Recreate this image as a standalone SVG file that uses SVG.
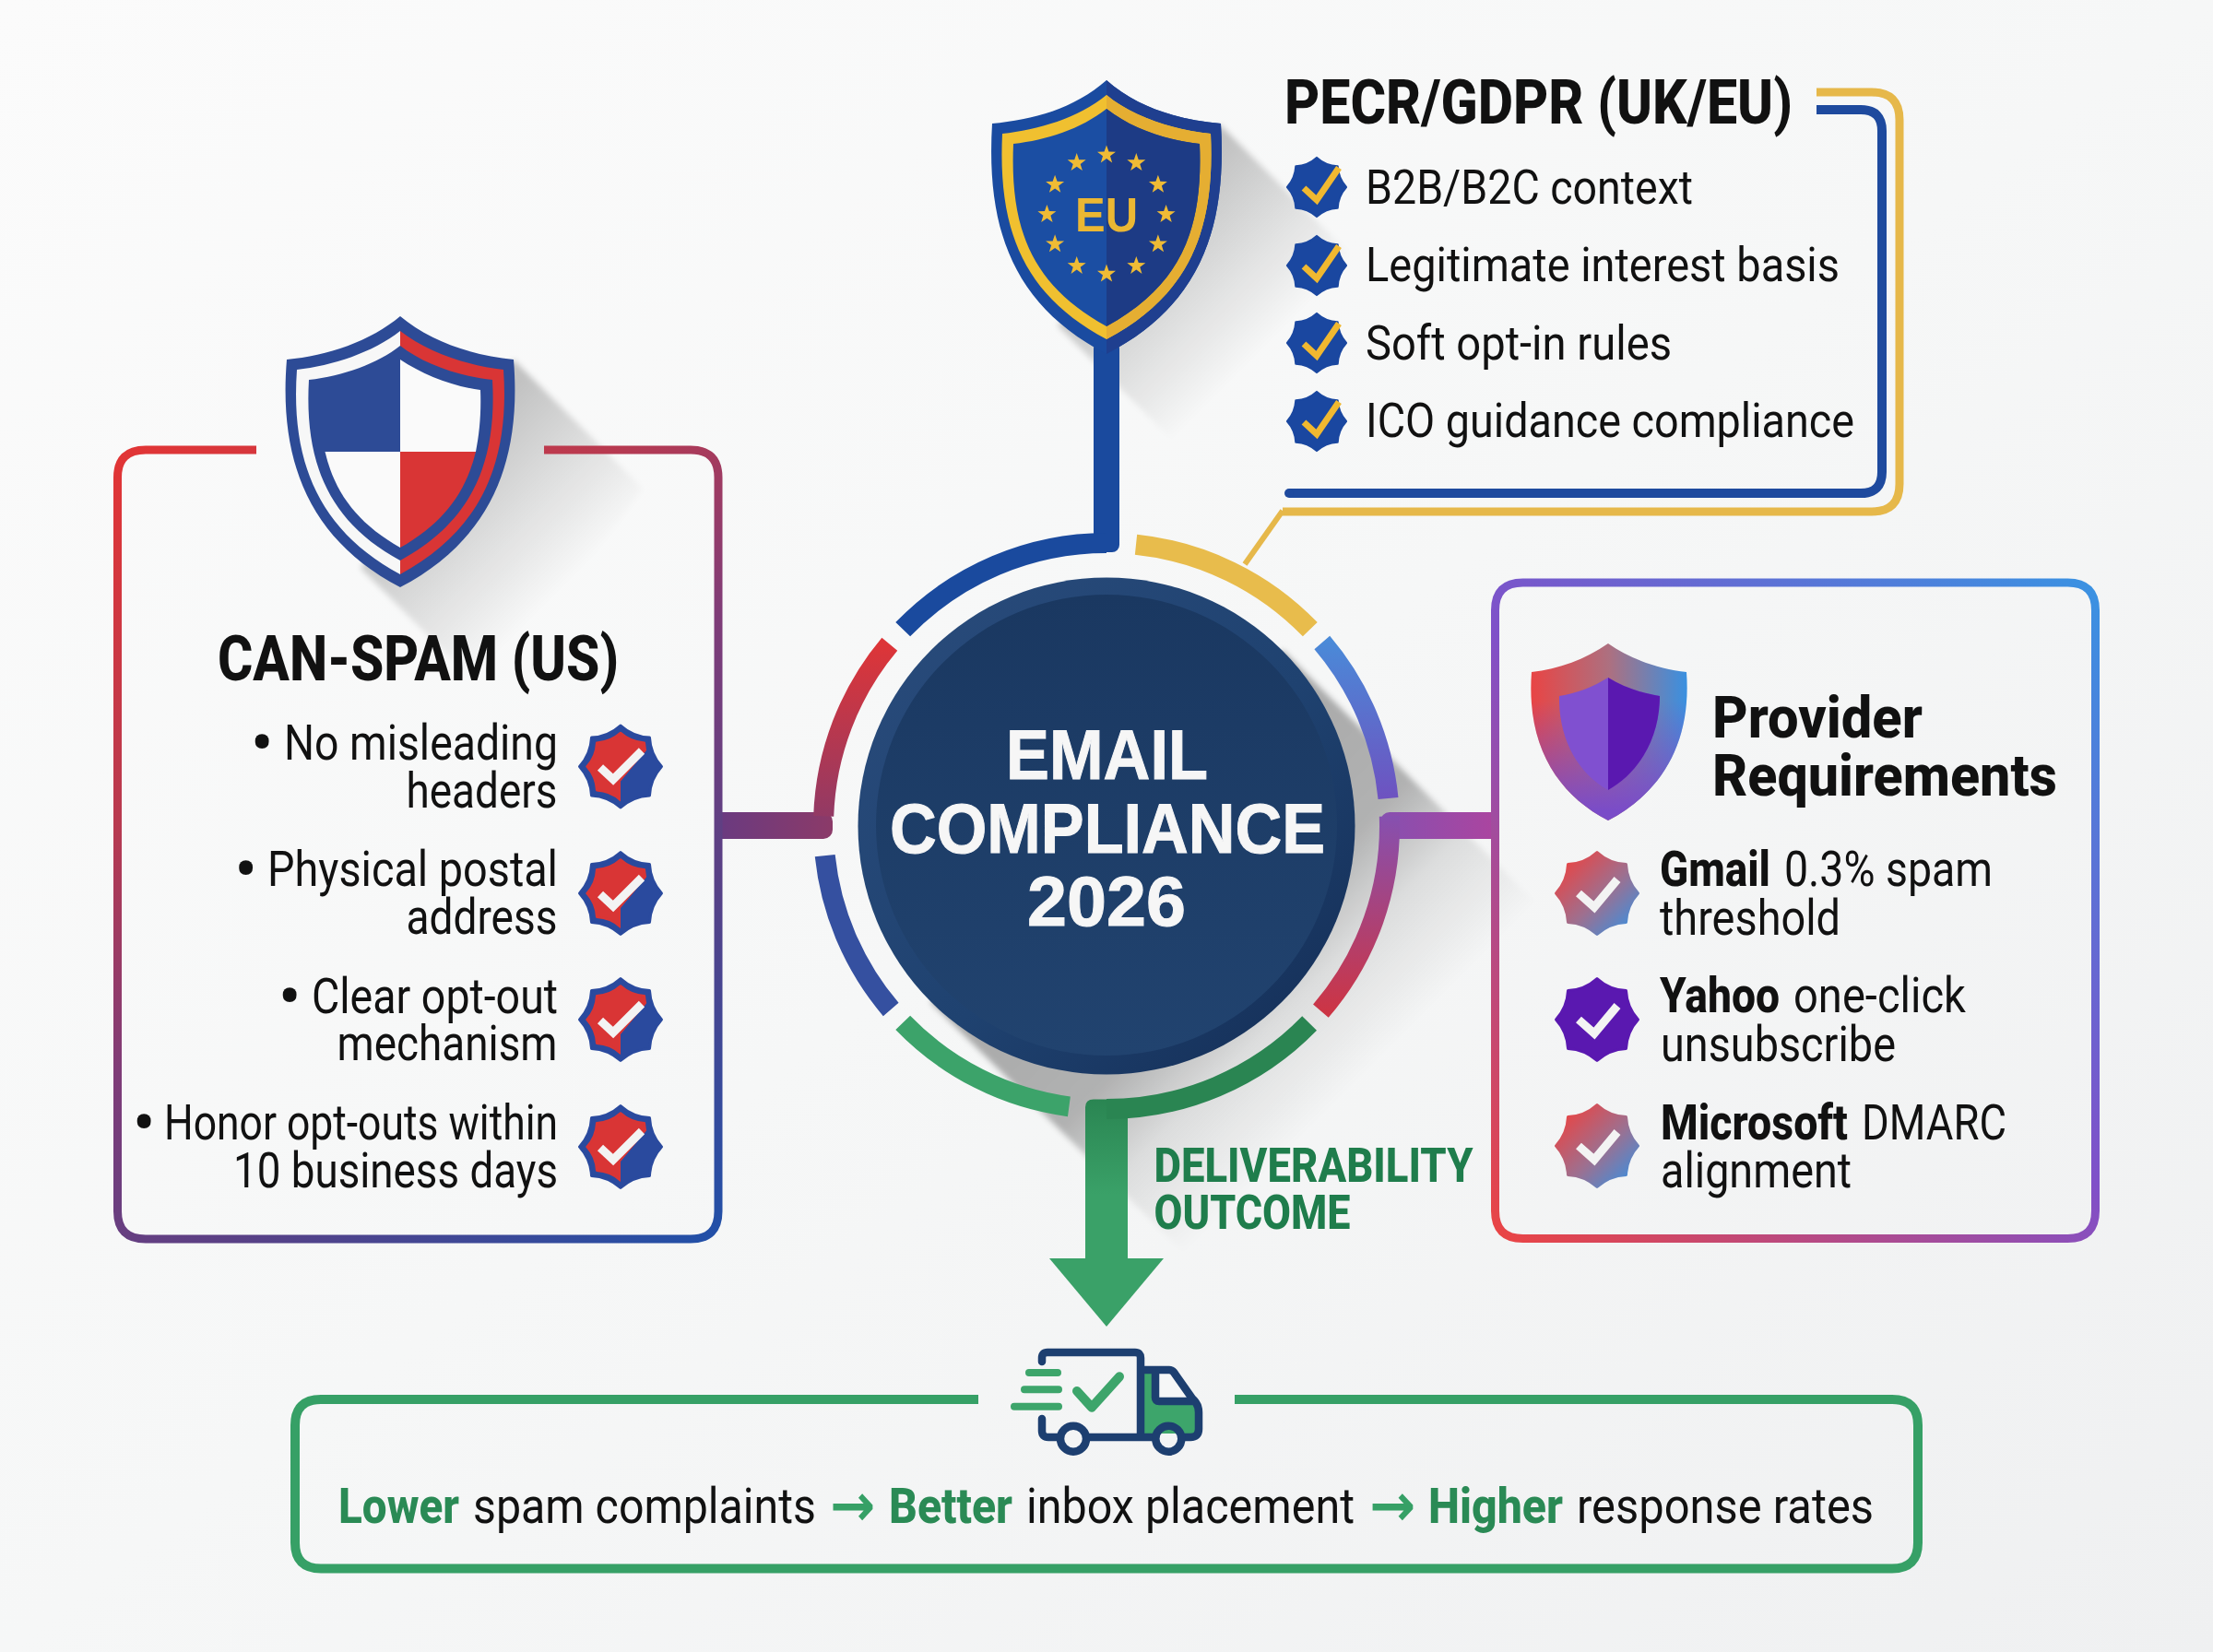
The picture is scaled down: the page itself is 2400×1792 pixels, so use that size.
<svg xmlns="http://www.w3.org/2000/svg" width="2400" height="1792" viewBox="0 0 2400 1792">
<defs>
<style>
text{font-family:Roboto,"Liberation Sans",sans-serif;fill:#111}
.b{font-weight:800}
.r{font-weight:400}
.h{font-size:66px;font-weight:800}
.i{font-size:54px}
.bu{font-size:74px}
.g{fill:#2a8a55;font-weight:800}
.c{font-family:"Liberation Sans",Arial,sans-serif;font-weight:700;font-size:76px;fill:#f6f6f6;stroke:#f6f6f6;stroke-width:1}
.ln{fill:none;stroke-width:9}
.seg{fill:none;stroke-width:22}
.wk{stroke:#f3f3f3;stroke-width:9;fill:none}
.nv{fill:none;stroke:#1d3f70;stroke-width:8.5;stroke-linecap:round;stroke-linejoin:round}
.sp{fill:none;stroke:#3da56b;stroke-width:8;stroke-linecap:round}
</style>
<linearGradient id="bg" x1="0" y1="0" x2="1" y2="1"><stop offset="0" stop-color="#fbfbfb"/><stop offset=".5" stop-color="#f6f7f7"/><stop offset="1" stop-color="#eff0f1"/></linearGradient>
<linearGradient id="lp" gradientUnits="userSpaceOnUse" x1="127" y1="488" x2="779" y2="1344"><stop offset="0" stop-color="#e23535"/><stop offset=".3" stop-color="#b83a50"/><stop offset=".5" stop-color="#7f3c78"/><stop offset=".7" stop-color="#5a4085"/><stop offset="1" stop-color="#2150a8"/></linearGradient>
<linearGradient id="rp" gradientUnits="userSpaceOnUse" x1="1621" y1="1343" x2="2272" y2="632"><stop offset="0" stop-color="#ea4444"/><stop offset=".5" stop-color="#8050c8"/><stop offset="1" stop-color="#3a92e2"/></linearGradient>
<linearGradient id="slt" gradientUnits="userSpaceOnUse" x1="0" y1="700" x2="0" y2="900"><stop offset="0" stop-color="#dd3538"/><stop offset="1" stop-color="#8c3a68"/></linearGradient>
<linearGradient id="srt" gradientUnits="userSpaceOnUse" x1="0" y1="695" x2="0" y2="866"><stop offset="0" stop-color="#4a8ad8"/><stop offset="1" stop-color="#6e52c0"/></linearGradient>
<linearGradient id="srb" gradientUnits="userSpaceOnUse" x1="0" y1="885" x2="0" y2="1097"><stop offset="0" stop-color="#8650b0"/><stop offset="1" stop-color="#cc3545"/></linearGradient>
<linearGradient id="cl" gradientUnits="userSpaceOnUse" x1="780" y1="0" x2="905" y2="0"><stop offset="0" stop-color="#6a3a80"/><stop offset="1" stop-color="#8c3a68"/></linearGradient>
<linearGradient id="cr" gradientUnits="userSpaceOnUse" x1="1497" y1="0" x2="1617" y2="0"><stop offset="0" stop-color="#8650b0"/><stop offset="1" stop-color="#aa45a0"/></linearGradient>
<linearGradient id="cg" gradientUnits="userSpaceOnUse" x1="0" y1="1192" x2="0" y2="1365"><stop offset="0" stop-color="#2a8552"/><stop offset=".6" stop-color="#3aa168"/></linearGradient>
<linearGradient id="cs" gradientUnits="userSpaceOnUse" x1="1200" y1="896" x2="1475" y2="1171"><stop offset="0" stop-color="#000" stop-opacity=".32"/><stop offset=".5" stop-color="#000" stop-opacity=".28"/><stop offset=".72" stop-color="#000" stop-opacity=".1"/><stop offset="1" stop-color="#000" stop-opacity="0"/></linearGradient>
<linearGradient id="es" gradientUnits="userSpaceOnUse" x1="1240" y1="240" x2="1375" y2="375"><stop offset="0" stop-color="#000" stop-opacity=".22"/><stop offset="1" stop-color="#000" stop-opacity="0"/></linearGradient>
<linearGradient id="us" gradientUnits="userSpaceOnUse" x1="474" y1="503" x2="610" y2="639"><stop offset="0" stop-color="#000" stop-opacity=".22"/><stop offset="1" stop-color="#000" stop-opacity="0"/></linearGradient>
<linearGradient id="disc" x1="0" y1="0" x2="1" y2="1"><stop offset="0" stop-color="#2a4c7c"/><stop offset=".55" stop-color="#1f4270"/><stop offset="1" stop-color="#132c54"/></linearGradient>
<linearGradient id="disc2" x1="0" y1="0" x2="0" y2="1"><stop offset="0" stop-color="#1a3861"/><stop offset="1" stop-color="#21436f"/></linearGradient>
<linearGradient id="po" gradientUnits="userSpaceOnUse" x1="1661" y1="0" x2="1829" y2="0"><stop offset="0" stop-color="#e84545"/><stop offset=".5" stop-color="#ad7080"/><stop offset="1" stop-color="#3a90e0"/></linearGradient>
<linearGradient id="po2" gradientUnits="userSpaceOnUse" x1="0" y1="760" x2="0" y2="880"><stop offset="0" stop-color="#7a4cc8" stop-opacity="0"/><stop offset="1" stop-color="#7a4cc8"/></linearGradient>
<linearGradient id="bd" x1="0" y1="0" x2="1" y2="1"><stop offset=".1" stop-color="#e84545"/><stop offset=".55" stop-color="#9d7090"/><stop offset=".95" stop-color="#3a90e0"/></linearGradient>
<path id="badge" d="M0,-44.5Q13.39,-32.34 31.47,-31.47Q32.34,-13.39 44.5,0Q32.34,13.39 31.47,31.47Q13.39,32.34 0,44.5Q-13.39,32.34 -31.47,31.47Q-32.34,13.39 -44.5,0Q-32.34,-13.39 -31.47,-31.47Q-13.39,-32.34 0,-44.5Z" stroke-width="3" stroke-linejoin="round"/>
<clipPath id="redclip"><polygon points="-50,-50 30,-50 30,-20 0,16 0,50 -50,50"/></clipPath>
<g id="usb">
<use href="#badge" fill="#2a4a9e" stroke="#2a4a9e"/>
<g clip-path="url(#redclip)"><use href="#badge" transform="scale(.82)" fill="#d93535" stroke="#d93535"/></g>
<path class="wk" d="M-22,1L-8,14L23,-17"/>
</g>
<g id="eub">
<use href="#badge" transform="scale(.72)" fill="#1a47a0" stroke="#1a47a0"/>
<path d="M-14,1L0,14L24,-21" fill="none" stroke="#f0b830" stroke-width="7"/>
</g>
<polygon id="star" fill="#efbb35" points="0,-10.5 2.47,-3.4 9.99,-3.24 3.99,1.3 6.17,8.49 0,4.2 -6.17,8.49 -3.99,1.3 -9.99,-3.24 -2.47,-3.4"/>
<filter id="soft" x="-10%" y="-10%" width="120%" height="120%"><feGaussianBlur stdDeviation="3"/></filter>
</defs>
<rect width="2400" height="1792" fill="url(#bg)"/>

<g id="shadows">
<polygon filter="url(#soft)" fill="url(#cs)" points="1391,705 1691,1005 1311,1385 1009,1087"/>
<polygon filter="url(#soft)" fill="url(#es)" points="1323,135 1463,275 1287,493 1147,353"/>
<polygon filter="url(#soft)" fill="url(#us)" points="557,390 697,530 531,756 391,616"/>
</g>

<g id="connectors">
<rect x="780" y="881" width="123" height="29" rx="10" fill="url(#cl)"/>
<rect x="780" y="881" width="40" height="29" fill="url(#cl)"/>
<rect x="1497" y="881" width="120" height="29" rx="10" fill="url(#cr)"/>
<rect x="1560" y="881" width="57" height="29" fill="url(#cr)"/>
<rect x="1186" y="370" width="28" height="229" rx="8" fill="#1a4a9e"/>
<path d="M1391,554L1350,612" fill="none" stroke="#e6b84a" stroke-width="6"/>
<path d="M1177,1365V1201Q1177,1192.500 1186,1192.500H1223V1365Z" fill="url(#cg)"/>
<polygon points="1138,1365 1262,1365 1200,1439" fill="#3aa168"/>
</g>

<g id="ring">
<path class="seg" stroke="#1a4a9e" d="M979.2,682.700A307,307 0 0 1 1200,589"/>
<path class="seg" stroke="#e8bc4c" d="M1232,590.700A307,307 0 0 1 1420.800,682.700"/>
<path class="seg" stroke="url(#srt)" d="M1433.800,697A307,307 0 0 1 1505.500,866"/>
<path class="seg" stroke="url(#srb)" d="M1506.800,885.300A307,307 0 0 1 1432.400,1096.600"/>
<path class="seg" stroke="#2a8552" d="M1420.100,1110A307,307 0 0 1 1200,1203"/>
<path class="seg" stroke="#3ca36a" d="M1159.400,1200.300A307,307 0 0 1 979.200,1109.300"/>
<path class="seg" stroke="#3550a0" d="M966.200,1095A307,307 0 0 1 894.700,928.100"/>
<path class="seg" stroke="url(#slt)" d="M893.200,885.300A307,307 0 0 1 964.800,698.700"/>
</g>

<g id="center">
<circle cx="1200" cy="896" r="269.500" fill="url(#disc)"/>
<circle cx="1200" cy="895" r="250" fill="url(#disc2)"/>
<text class="c" x="1091" y="845" textLength="219" lengthAdjust="spacingAndGlyphs">EMAIL</text>
<text class="c" x="965" y="925" textLength="472" lengthAdjust="spacingAndGlyphs">COMPLIANCE</text>
<text class="c" x="1114" y="1004" textLength="172" lengthAdjust="spacingAndGlyphs">2026</text>
</g>

<g id="can-spam">
<path class="ln" stroke="url(#lp)" d="M278,488H158Q127.500,488 127.500,518V1314Q127.500,1344 158,1344H749Q779,1344 779,1314V518Q779,488 749,488H590"/>
<path fill="#2d4b96" d="M434,343C402,370 355,386 311,390C302,500 335,585 434,637C533,585 566,500 557,390C513,386 466,370 434,343Z"/>
<path fill="#f7f7f7" d="M434,359C405,382 360,397 322,401C315,500 345,575 434,623Z"/>
<path fill="#d93535" d="M434,359C463,382 508,397 546,401C553,500 523,575 434,623Z"/>
<path fill="#2d4b96" d="M434,375C410,394 372,408 335,412C330,500 355,565 434,608C513,565 539,500 534,412C496,408 458,394 434,375Z"/>
<path fill="#fafafa" d="M434,390C458,406 490,419 521,423C522,448 520,470 516,490H434Z"/>
<path fill="#d93535" d="M434,490H516C505,535 480,568 434,594Z"/>
<path fill="#fafafa" d="M434,490H352.500C363,535 388,568 434,594Z"/>
<text class="b" style="font-size:68px" x="236" y="738" textLength="435" lengthAdjust="spacingAndGlyphs">CAN-SPAM (US)</text>
<text class="i"><tspan class="bu" x="291" y="831" text-anchor="middle">•</tspan> <tspan x="308" y="824" textLength="297" lengthAdjust="spacingAndGlyphs">No misleading</tspan></text>
<text class="i" x="440.500" y="876" textLength="164" lengthAdjust="spacingAndGlyphs">headers</text>
<text class="i"><tspan class="bu" x="273.500" y="968" text-anchor="middle">•</tspan> <tspan x="290" y="961" textLength="315" lengthAdjust="spacingAndGlyphs">Physical postal</tspan></text>
<text class="i" x="440.500" y="1013" textLength="164" lengthAdjust="spacingAndGlyphs">address</text>
<text class="i"><tspan class="bu" x="321" y="1106" text-anchor="middle">•</tspan> <tspan x="338" y="1099" textLength="267" lengthAdjust="spacingAndGlyphs">Clear opt-out</tspan></text>
<text class="i" x="365.500" y="1150" textLength="239" lengthAdjust="spacingAndGlyphs">mechanism</text>
<text class="i"><tspan class="bu" x="163" y="1243" text-anchor="middle">•</tspan> <tspan x="178" y="1236" textLength="427" lengthAdjust="spacingAndGlyphs">Honor opt-outs within</tspan></text>
<text class="i" x="253" y="1288" textLength="352" lengthAdjust="spacingAndGlyphs">10 business days</text>
<use href="#usb" transform="translate(673,831.500)"/>
<use href="#usb" transform="translate(673,969)"/>
<use href="#usb" transform="translate(673,1106)"/>
<use href="#usb" transform="translate(673,1244)"/>
</g>

<g id="pecr-gdpr">
<path class="ln" stroke="#1e4a9e" style="stroke-width:10" d="M1970,119H2018Q2041,119 2041,142V512Q2041,535 2018,535H1398"/>
<circle cx="1398" cy="535" r="5" fill="#1e4a9e"/>
<path class="ln" stroke="#e6b84a" d="M1970,100H2030Q2060,100 2060,130V525Q2060,555 2030,555H1391"/>
<path fill="#1a4ba0" d="M1200,87C1165,118 1120,130 1076,134C1069,250 1100,332 1200,384C1300,332 1331,250 1324,134C1280,130 1235,118 1200,87Z"/>
<path fill="#1f3f8f" d="M1200,87C1235,118 1280,130 1324,134C1331,250 1300,332 1200,384Z"/>
<path fill="#f0c030" d="M1200,103C1170,128 1125,141 1087,145C1082,250 1110,320 1200,368C1290,320 1318,250 1313,145C1275,141 1230,128 1200,103Z"/>
<path fill="#e5ae32" d="M1200,103C1230,128 1275,141 1313,145C1318,250 1290,320 1200,368Z"/>
<path fill="#1b4ea3" d="M1200,118C1172,140 1135,152 1099,156C1095,250 1120,310 1200,354C1280,310 1305,250 1301,156C1265,152 1228,140 1200,118Z"/>
<path fill="#1d3b85" d="M1200,118C1228,140 1265,152 1301,156C1305,250 1280,310 1200,354Z"/>
<use href="#star" x="1200" y="167.900"/><use href="#star" x="1232.300" y="176.600"/><use href="#star" x="1255.900" y="200.200"/><use href="#star" x="1264.600" y="232.500"/><use href="#star" x="1255.900" y="264.800"/><use href="#star" x="1232.300" y="288.400"/><use href="#star" x="1200" y="297.100"/><use href="#star" x="1167.700" y="288.400"/><use href="#star" x="1144.100" y="264.800"/><use href="#star" x="1135.400" y="232.500"/><use href="#star" x="1144.100" y="200.200"/><use href="#star" x="1167.700" y="176.600"/>
<text x="1166" y="251" textLength="68" lengthAdjust="spacingAndGlyphs" style="font-family:'Liberation Sans',sans-serif;font-weight:700;font-size:51px;fill:#ebb733">EU</text>
<text class="h" x="1393" y="134" textLength="551" lengthAdjust="spacingAndGlyphs">PECR/GDPR (UK/EU)</text>
<use href="#eub" transform="translate(1428,203)"/>
<use href="#eub" transform="translate(1428,288)"/>
<use href="#eub" transform="translate(1428,372)"/>
<use href="#eub" transform="translate(1428,457)"/>
<text class="i" style="font-size:52px" x="1481" y="221" textLength="355" lengthAdjust="spacingAndGlyphs">B2B/B2C context</text>
<text class="i" style="font-size:52px" x="1481" y="305" textLength="514" lengthAdjust="spacingAndGlyphs">Legitimate interest basis</text>
<text class="i" style="font-size:52px" x="1481" y="390" textLength="332" lengthAdjust="spacingAndGlyphs">Soft opt-in rules</text>
<text class="i" style="font-size:52px" x="1481" y="474" textLength="530" lengthAdjust="spacingAndGlyphs">ICO guidance compliance</text>
</g>

<g id="provider">
<path class="ln" stroke="url(#rp)" d="M1651.500,632H2242.500Q2272.500,632 2272.500,662V1313.500Q2272.500,1343.500 2242.500,1343.500H1651.500Q1621.500,1343.500 1621.500,1313.500V662Q1621.500,632 1651.500,632Z"/>
<path fill="url(#po)" d="M1744,698C1720,715 1690,726 1661,729C1655,810 1690,862 1744,890C1798,862 1835,810 1829,729C1800,726 1768,715 1744,698Z"/>
<path fill="url(#po2)" d="M1744,698C1720,715 1690,726 1661,729C1655,810 1690,862 1744,890C1798,862 1835,810 1829,729C1800,726 1768,715 1744,698Z"/>
<path fill="#8050d0" d="M1744,735C1728,745 1710,752 1691,755C1690,800 1710,838 1744,857C1778,838 1800,800 1800,755C1780,752 1760,745 1744,735Z"/>
<path fill="#5a18b0" d="M1744,735C1760,745 1780,752 1800,755C1800,800 1778,838 1744,857Z"/>
<text class="h" style="font-size:63px" x="1857" y="800" textLength="228" lengthAdjust="spacingAndGlyphs">Provider</text>
<text class="h" style="font-size:63px" x="1857" y="863" textLength="374" lengthAdjust="spacingAndGlyphs">Requirements</text>
<use href="#badge" transform="translate(1732,969)" fill="url(#bd)" stroke="url(#bd)"/>
<path class="wk" transform="translate(1732,969)" d="M-20,0L-3,15L22,-15"/>
<use href="#badge" transform="translate(1732,1106)" fill="#5a18b0" stroke="#5a18b0"/>
<path class="wk" transform="translate(1732,1106)" d="M-20,0L-3,15L22,-15"/>
<use href="#badge" transform="translate(1732,1243)" fill="url(#bd)" stroke="url(#bd)"/>
<path class="wk" transform="translate(1732,1243)" d="M-20,0L-3,15L22,-15"/>
<text class="i"><tspan class="b" x="1800" y="961" textLength="120" lengthAdjust="spacingAndGlyphs">Gmail</tspan> <tspan x="1935" y="961" textLength="226" lengthAdjust="spacingAndGlyphs">0.3% spam</tspan></text>
<text class="i" x="1800" y="1014" textLength="196" lengthAdjust="spacingAndGlyphs">threshold</text>
<text class="i"><tspan class="b" x="1800" y="1098" textLength="130" lengthAdjust="spacingAndGlyphs">Yahoo</tspan> <tspan x="1945" y="1098" textLength="187" lengthAdjust="spacingAndGlyphs">one-click</tspan></text>
<text class="i" x="1801" y="1151" textLength="255" lengthAdjust="spacingAndGlyphs">unsubscribe</text>
<text class="i"><tspan class="b" x="1801" y="1236" textLength="203" lengthAdjust="spacingAndGlyphs">Microsoft</tspan> <tspan x="2019" y="1236" textLength="157" lengthAdjust="spacingAndGlyphs">DMARC</tspan></text>
<text class="i" x="1801" y="1288" textLength="207" lengthAdjust="spacingAndGlyphs">alignment</text>
</g>

<g id="deliverability-label">
<text class="g" style="font-size:52px;fill:#1f7d4c" x="1251.500" y="1282" textLength="346" lengthAdjust="spacingAndGlyphs">DELIVERABILITY</text>
<text class="g" style="font-size:52px;fill:#1f7d4c" x="1251.500" y="1333" textLength="213" lengthAdjust="spacingAndGlyphs">OUTCOME</text>
</g>

<g id="outcome">
<path class="ln" style="stroke-width:10" stroke="#36a066" d="M1061,1518H348Q320,1518 320,1546V1673.500Q320,1701.500 348,1701.500H2052Q2080,1701.500 2080,1673.500V1546Q2080,1518 2052,1518H1339"/>
<path fill="#3da56b" d="M1241,1490H1258Q1260,1490 1260,1495V1520Q1260,1522 1265,1522H1292L1296,1524V1555H1241Z"/>
<path fill="#f6f7f7" d="M1257,1490H1277L1286,1516H1257Z"/>
<path class="nv" d="M1130,1477V1473Q1130,1467 1136,1467H1231Q1237,1467 1237,1473V1559M1130,1539V1552Q1130,1559 1137,1559H1147M1182,1559H1250M1237,1486H1268Q1272,1486 1274,1490L1293,1517Q1300,1523 1300,1532V1550Q1300,1559 1291,1559H1284M1253,1486V1516Q1253,1520 1257,1520H1296"/>
<circle class="nv" cx="1164" cy="1560.700" r="14"/>
<circle class="nv" cx="1267.300" cy="1560.700" r="14"/>
<path class="sp" d="M1116,1489H1147M1111,1507.300H1148M1100,1525.700H1148"/>
<path class="sp" style="stroke-width:10" d="M1168,1509L1184,1526.700L1214,1493.300" stroke-linejoin="round"/>
<text style="font-size:54px"><tspan class="g" x="367" y="1652" textLength="131" lengthAdjust="spacingAndGlyphs">Lower</tspan> <tspan x="513" y="1652" textLength="372" lengthAdjust="spacingAndGlyphs">spam complaints</tspan> <tspan x="900" y="1655" textLength="49" lengthAdjust="spacingAndGlyphs" style="font-family:'DejaVu Sans',sans-serif;font-size:64px;font-weight:700;fill:#36a066">→</tspan> <tspan class="g" x="964" y="1652" textLength="134" lengthAdjust="spacingAndGlyphs">Better</tspan> <tspan x="1113" y="1652" textLength="356" lengthAdjust="spacingAndGlyphs">inbox placement</tspan> <tspan x="1485" y="1655" textLength="50" lengthAdjust="spacingAndGlyphs" style="font-family:'DejaVu Sans',sans-serif;font-size:64px;font-weight:700;fill:#36a066">→</tspan> <tspan class="g" x="1549" y="1652" textLength="146" lengthAdjust="spacingAndGlyphs">Higher</tspan> <tspan x="1710" y="1652" textLength="322" lengthAdjust="spacingAndGlyphs">response rates</tspan></text>
</g>
</svg>
